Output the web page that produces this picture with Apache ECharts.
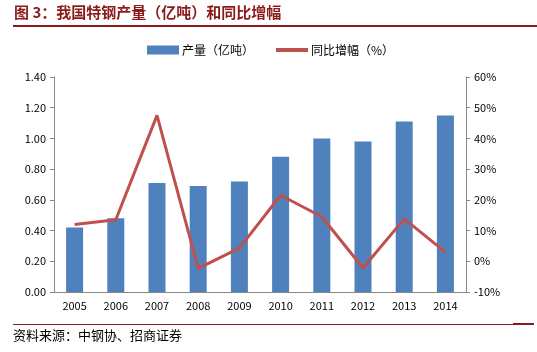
<!DOCTYPE html>
<html lang="zh">
  <head>
    <meta charset="UTF-8" />
    <title>特钢产量</title>
    <script src="https://cdn.jsdelivr.net/npm/echarts@6/dist/echarts.min.js"></script>
    <style>
      body { margin: 0; background: #fff; }
      #main { width: 537px; height: 352px; }
    </style>
  </head>
  <body>
    <div id="main"></div>
  </body>
</html>
<script>
  const years = ['2005', '2006', '2007', '2008', '2009', '2010', '2011', '2012', '2013', '2014']
  const output = [0.42, 0.48, 0.71, 0.69, 0.72, 0.88, 1.0, 0.98, 1.11, 1.15]
  const growth = [12, 13.5, 47.5, -2.3, 4.3, 21.5, 14.5, -2.2, 13.8, 3]

  const darkRed = '#8b1a1a'
  const font = '"Noto Sans CJK SC", sans-serif'

  const chart = echarts.init(document.getElementById('main'))

  chart.setOption({
    animation: false,
    textStyle: { fontFamily: font },
    graphic: [
      {
        type: 'text', left: 14, top: 5,
        style: { text: '图 3：我国特钢产量（亿吨）和同比增幅', fill: darkRed, font: 'bold 15px ' + font }
      },
      { type: 'rect', shape: { x: 13, y: 25, width: 524, height: 2 }, style: { fill: darkRed } },
      { type: 'rect', shape: { x: 13, y: 324, width: 500, height: 1 }, style: { fill: darkRed } },
      { type: 'rect', shape: { x: 513, y: 323, width: 21, height: 2 }, style: { fill: darkRed } },
      {
        type: 'text', left: 13, top: 329,
        style: { text: '资料来源：中钢协、招商证券', fill: '#000', font: '13px ' + font }
      }
    ],
    legend: {
      top: 39,
      left: 142,
      itemGap: 22,
      itemWidth: 32,
      itemHeight: 9,
      textStyle: { fontSize: 12, color: '#000', padding: [0, 0, 0, -2] },
      data: [
        { name: '产量（亿吨）', icon: 'rect' },
        { name: '同比增幅（%）', icon: 'path://M0,0H32V4H0Z', itemStyle: { color: '#c0504d' } }
      ]
    },
    grid: { left: 54, right: 71, top: 77, bottom: 60 },
    xAxis: {
      type: 'category',
      data: years,
      axisLine: { lineStyle: { color: '#868686' } },
      axisTick: { length: 4, lineStyle: { color: '#868686' } },
      axisLabel: { color: '#000', fontSize: 11, margin: 8 }
    },
    yAxis: [
      {
        type: 'value',
        min: 0,
        max: 1.4,
        interval: 0.2,
        splitLine: { show: false },
        axisLine: { show: true, lineStyle: { color: '#868686' } },
        axisTick: { show: true, length: 4, lineStyle: { color: '#868686' } },
        axisLabel: { color: '#000', fontSize: 11, formatter: (v) => v.toFixed(2) }
      },
      {
        type: 'value',
        min: -10,
        max: 60,
        interval: 10,
        splitLine: { show: false },
        axisLine: { show: true, lineStyle: { color: '#868686' } },
        axisTick: { show: true, length: 4, lineStyle: { color: '#868686' } },
        axisLabel: { color: '#000', fontSize: 11, formatter: '{value}%' }
      }
    ],
    series: [
      {
        name: '产量（亿吨）',
        type: 'bar',
        data: output,
        barWidth: 17,
        itemStyle: { color: '#4f81bd' }
      },
      {
        name: '同比增幅（%）',
        type: 'line',
        yAxisIndex: 1,
        data: growth,
        symbol: 'none',
        lineStyle: { color: '#c0504d', width: 3 },
        itemStyle: { color: '#c0504d' }
      }
    ]
  })

  window.addEventListener('resize', () => {
    chart.resize()
  })
</script>
